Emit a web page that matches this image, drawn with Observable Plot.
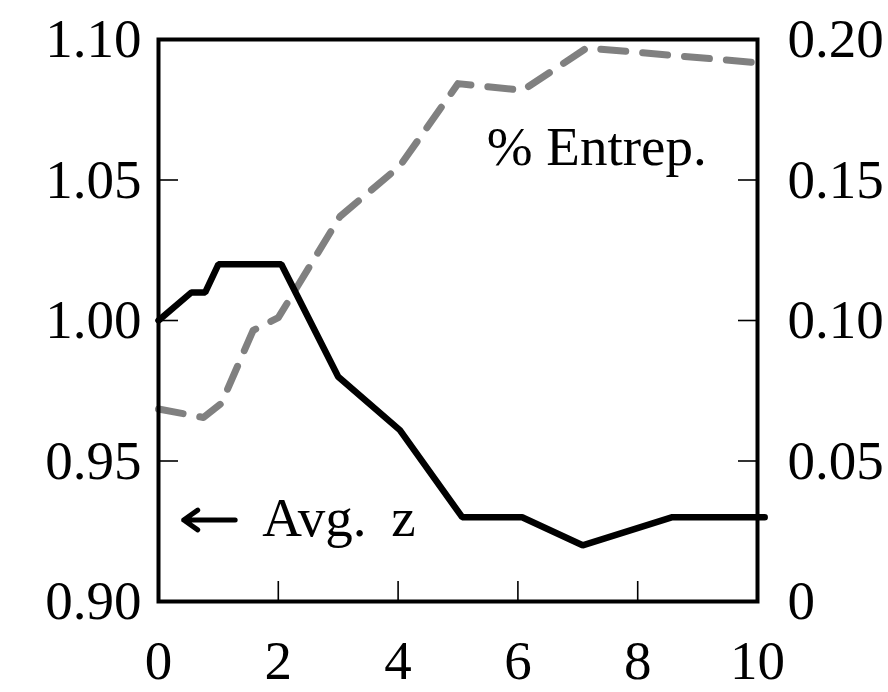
<!DOCTYPE html>
<html>
<head>
<meta charset="utf-8">
<script src="https://cdn.jsdelivr.net/npm/d3@7"></script>
<script src="https://cdn.jsdelivr.net/npm/@observablehq/plot@0.6"></script>
<style>
  html, body { margin: 0; padding: 0; background: #fff; }
  svg { display: block; }
</style>
</head>
<body>
<div id="chart"></div>
<script>
// Avg. z (left axis)
const zX = [0, 0.55, 0.78, 1.0, 2.05, 3.0, 4.03, 5.07, 6.07, 7.08, 8.58, 10.12];
const zY = [1.00, 1.01, 1.01, 1.02, 1.02, 0.98, 0.961, 0.93, 0.93, 0.92, 0.93, 0.93];
// % Entrep. (right axis, 0 .. 0.20)
const eX = [0, 0.75, 1.05, 1.58, 2.0, 3.03, 4.03, 5.0, 6.08, 7.15, 10.12];
const eY = [0.0685, 0.0655, 0.0705, 0.0965, 0.101, 0.137, 0.155, 0.1843, 0.1819, 0.197, 0.1915];

const xTicks = [0, 2, 4, 6, 8, 10];
const leftTicks = [0.90, 0.95, 1.00, 1.05, 1.10];
const leftLabels = ["0.90", "0.95", "1.00", "1.05", "1.10"];
const rightTicks = [0, 0.05, 0.10, 0.15, 0.20];
const rightLabels = ["0", "0.05", "0.10", "0.15", "0.20"];

// Right axis maps onto the left one: 0 -> 0.90, 0.20 -> 1.10
const rightOffset = 0.90;

const zData = zX.map((x, i) => ({x, y: zY[i]}));
const eData = eX.map((x, i) => ({x, y: eY[i] + rightOffset}));

const labels = [
  {x: 5.48, y: 1.0615, text: "% Entrep."},
  {x: 1.73, y: 0.9295, text: "Avg.\u2009 z"}
];
const arrows = [{x1: 1.28, x2: 0.42, y: 0.929}];

const FS = 55;

const chart = Plot.plot({
  width: 888,
  height: 692,
  marginLeft: 158,
  marginRight: 131,
  marginTop: 39,
  marginBottom: 91,
  style: {fontFamily: "'Liberation Serif', serif", fontSize: FS + "px", color: "#000", background: "#fff"},
  x: {domain: [0, 10]},
  y: {domain: [0.9, 1.1]},
  marks: [
    // inward ticks
    Plot.axisX({ticks: xTicks, tickSize: -20, tickFormat: () => "", label: null, strokeWidth: 1.6}),
    Plot.axisY({ticks: leftTicks, anchor: "left", tickSize: -20, tickFormat: () => "", label: null, strokeWidth: 1.6}),
    Plot.axisY({ticks: leftTicks, anchor: "right", tickSize: -20, tickFormat: () => "", label: null, strokeWidth: 1.6}),
    // tick labels
    Plot.axisX({ticks: xTicks, tickSize: 0, tickPadding: 38, label: null, tickFormat: d => String(d), fontSize: FS}),
    Plot.axisY({ticks: leftTicks, anchor: "left", tickSize: 0, tickPadding: 17, label: null,
      tickFormat: d => leftLabels[leftTicks.findIndex(t => Math.abs(t - d) < 1e-9)], fontSize: FS}),
    Plot.axisY({ticks: rightTicks.map(v => v + rightOffset), anchor: "right", tickSize: 0, tickPadding: 30, label: null,
      tickFormat: d => rightLabels[rightTicks.findIndex(t => Math.abs(t + rightOffset - d) < 1e-9)], fontSize: FS}),
    // series
    Plot.line(eData, {x: "x", y: "y", stroke: "#808080", strokeWidth: 7, strokeDasharray: "25,17", strokeLinejoin: "round", curve: "linear"}),
    Plot.line(zData, {x: "x", y: "y", stroke: "#000", strokeWidth: 6.5, strokeLinejoin: "miter", curve: "linear"}),
    // annotations
    Plot.text(labels, {x: "x", y: "y", text: "text", textAnchor: "start", fontSize: FS, fill: "#000", letterSpacing: "1.5px"}),
    Plot.arrow(arrows, {x1: "x1", x2: "x2", y1: "y", y2: "y", stroke: "#000", strokeWidth: 5, headLength: 14, headAngle: 70, bend: 0}),
    Plot.frame({stroke: "#000", strokeWidth: 4})
  ]
});
document.getElementById("chart").appendChild(chart);
</script>
</body>
</html>
